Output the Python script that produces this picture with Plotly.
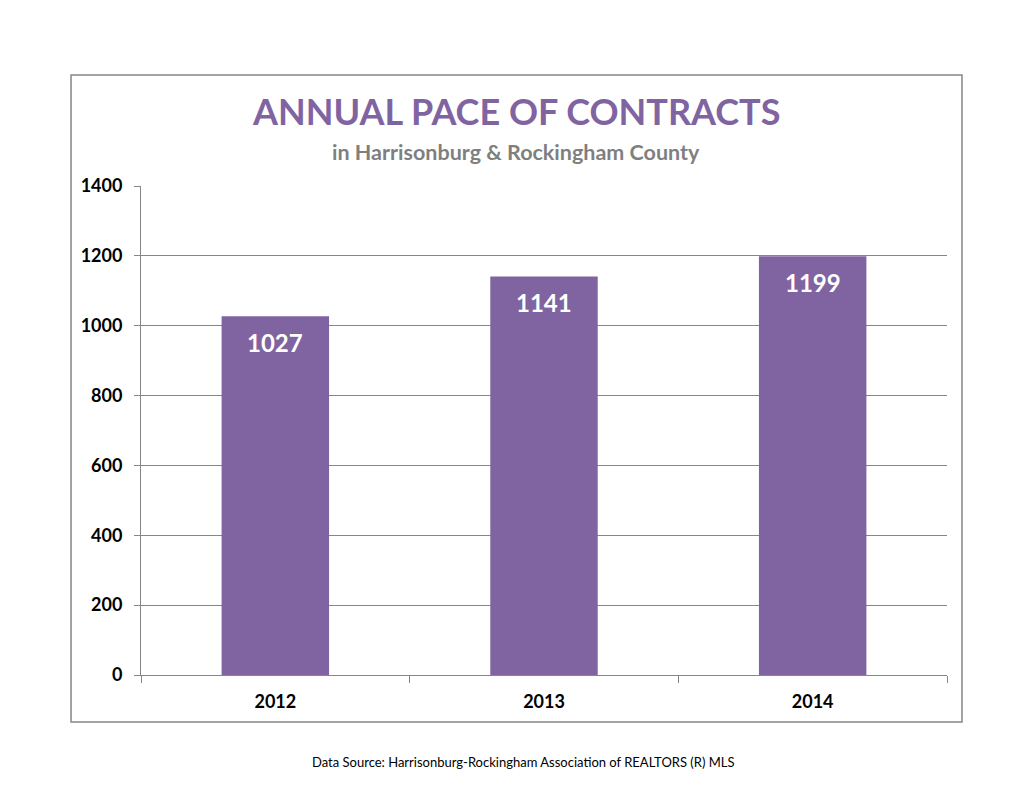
import plotly.graph_objects as go

# valores
years = ["2012", "2013", "2014"]
contracts = [1027, 1141, 1199]
y_ticks = [0, 200, 400, 600, 800, 1000, 1200, 1400]

PURPLE = "#8064A2"
GRID = "#868686"
FONT = "Lato"

fig = go.Figure()
fig.add_trace(go.Bar(
    x=years, y=contracts, marker=dict(color=PURPLE, line=dict(width=0)),
    width=0.4, hoverinfo="skip",
))

# rótulos brancos dentro das barras, logo abaixo do topo
# (x pelo índice da categoria: "2012" como texto vira número no eixo)
for i, val in enumerate(contracts):
    fig.add_annotation(
        x=i, y=val, text=f"<b>{val}</b>", showarrow=False,
        yanchor="middle", yshift=-26,
        font=dict(family=FONT, size=24, color="white"),
    )

fig.add_annotation(
    x=0.465, y=1.153, xref="paper", yref="paper", showarrow=False,
    yanchor="middle", text="<b>ANNUAL PACE OF CONTRACTS</b>",
    font=dict(family=FONT, size=36, color=PURPLE),
)
fig.add_annotation(
    x=0.465, y=1.0695, xref="paper", yref="paper", showarrow=False,
    yanchor="middle", text="<b>in Harrisonburg &amp; Rockingham County</b>",
    font=dict(family=FONT, size=21.5, color="#7F7F7F"),
)
fig.add_annotation(
    x=0.474, y=-0.178, xref="paper", yref="paper", showarrow=False,
    yanchor="middle",
    text="Data Source: Harrisonburg-Rockingham Association of REALTORS (R) MLS",
    font=dict(family=FONT, size=13, color="black"),
)

# moldura externa do gráfico
fig.add_shape(
    type="rect", xref="paper", yref="paper",
    x0=-0.0868, x1=1.0186, y0=-0.0961, y1=1.227,
    line=dict(color=GRID, width=1.5), layer="below",
)

# a página tem 8px de margem no body: compensado nas margens
fig.update_layout(
    width=1035, height=800,
    margin=dict(l=133, r=96, t=178, b=133),
    paper_bgcolor="white", plot_bgcolor="white",
    showlegend=False,
    font=dict(family=FONT, color="black"),
)
fig.update_xaxes(
    type="category", categoryorder="array", categoryarray=years,
    range=[-0.5, len(years) - 0.5], showgrid=False,
    showline=True, linecolor=GRID, linewidth=1,
    ticks="outside", tickson="boundaries", ticklen=7, tickcolor=GRID,
    tickfont=dict(family=FONT, size=18, color="black", weight="bold"),
    ticklabelstandoff=10, tickangle=0,
)
fig.update_yaxes(
    range=[0, 1400], tickvals=y_ticks, ticktext=[str(v) for v in y_ticks],
    showgrid=True, gridcolor=GRID, gridwidth=1,
    showline=True, linecolor=GRID, linewidth=1,
    ticks="outside", ticklen=6, tickcolor=GRID,
    tickfont=dict(family=FONT, size=18, color="black", weight="bold"),
    ticklabelstandoff=8, zeroline=False,
)

fig.write_html("out.html")
